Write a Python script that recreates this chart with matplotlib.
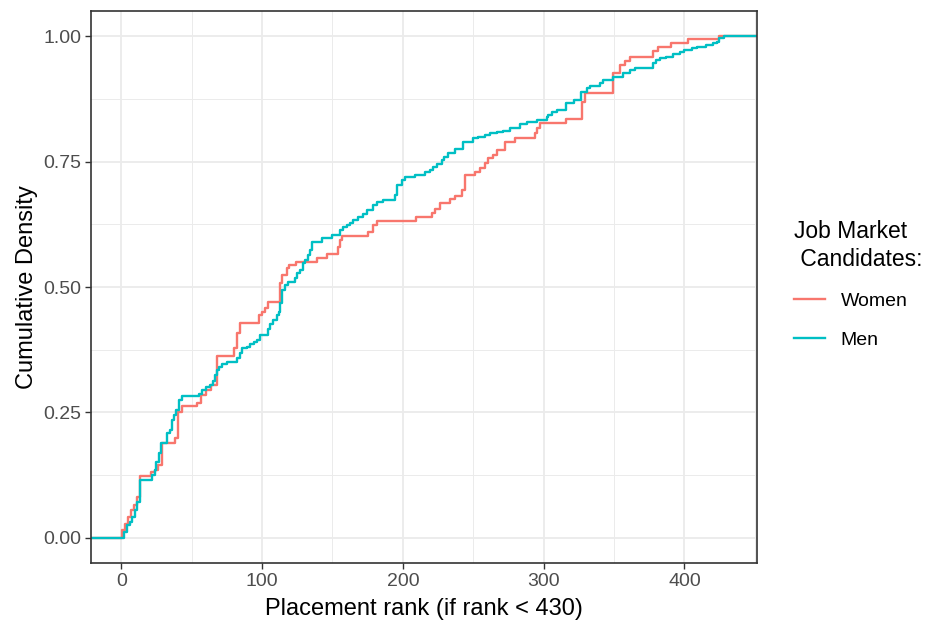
import matplotlib
matplotlib.use("Agg")
import matplotlib.pyplot as plt
from matplotlib.ticker import FixedLocator

plt.rcParams['font.family'] = ['Liberation Sans', 'DejaVu Sans']

# Step breakpoints (placement rank, cumulative density)
women_rank = [0.7, 2.8, 5.0, 7.1, 9.2, 11.3, 13.5, 21.3, 24.1, 26.2, 29.1, 38.3, 40.4, 43.3,
              53.9, 56.7, 60.3, 63.8, 68.1, 80.1, 82.3, 84.4, 97.9, 100.0, 102.1, 104.3,
              112.8, 114.2, 117.7, 119.1, 124.1, 139.0, 146.1, 153.9, 155.3, 156.7, 175.2,
              178.7, 181.6, 209.2, 220.6, 222.7, 226.2, 233.3, 236.9, 241.8, 244.0, 251.1,
              254.6, 258.2, 260.3, 263.8, 266.7, 272.3, 279.4, 293.6, 295.0, 297.2, 315.6,
              327.0, 329.1, 348.9, 353.9, 357.4, 361.0, 377.3, 380.9, 390.1, 402.8, 424.8]
women_cdf = [0.016, 0.028, 0.042, 0.056, 0.066, 0.082, 0.124, 0.131, 0.135, 0.145, 0.189, 0.199,
             0.251, 0.263, 0.269, 0.285, 0.295, 0.305, 0.363, 0.378, 0.408, 0.428, 0.444, 0.450,
             0.458, 0.470, 0.508, 0.524, 0.538, 0.544, 0.550, 0.558, 0.566, 0.580, 0.594, 0.602,
             0.610, 0.624, 0.631, 0.639, 0.647, 0.655, 0.667, 0.675, 0.681, 0.693, 0.723, 0.729,
             0.737, 0.747, 0.757, 0.763, 0.773, 0.789, 0.797, 0.807, 0.817, 0.827, 0.835, 0.869,
             0.886, 0.926, 0.942, 0.950, 0.958, 0.970, 0.978, 0.986, 0.994, 1.000]

men_rank = [2.1, 4.3, 6.4, 7.8, 9.9, 11.3, 13.5, 22.0, 24.1, 24.8, 27.0, 28.4, 32.6, 34.8, 36.2,
            37.6, 39.0, 41.1, 43.3, 55.3, 57.4, 60.3, 63.1, 65.2, 66.7, 68.1, 69.5, 71.6, 75.2,
            82.3, 84.4, 85.8, 89.4, 91.5, 94.3, 96.5, 98.6, 104.3, 105.7, 107.8, 110.6, 112.1,
            112.8, 114.2, 116.3, 118.4, 123.4, 124.8, 127.0, 129.1, 130.5, 132.6, 134.0, 135.5,
            142.6, 149.6, 155.3, 157.4, 160.3, 162.4, 164.5, 168.1, 171.6, 174.5, 178.7, 181.6,
            185.8, 194.3, 195.7, 199.3, 201.4, 208.5, 215.6, 219.1, 221.3, 224.1, 227.7, 229.1,
            231.9, 236.9, 242.6, 249.6, 253.2, 258.2, 261.7, 266.7, 270.9, 275.9, 283.0, 288.0,
            295.0, 302.1, 302.8, 305.7, 309.2, 315.6, 321.3, 326.2, 330.5, 332.6, 339.7, 341.8,
            348.9, 356.0, 361.0, 364.5, 377.3, 380.1, 382.3, 387.2, 391.5, 396.5, 399.3, 405.0,
            409.2, 415.6, 420.6, 423.4, 424.8, 428.4]
men_cdf = [0.012, 0.026, 0.032, 0.042, 0.056, 0.072, 0.116, 0.125, 0.135, 0.151, 0.169, 0.189,
           0.209, 0.215, 0.235, 0.245, 0.255, 0.275, 0.283, 0.287, 0.295, 0.301, 0.305, 0.313,
           0.325, 0.335, 0.341, 0.347, 0.351, 0.359, 0.369, 0.378, 0.380, 0.386, 0.390, 0.394,
           0.404, 0.416, 0.426, 0.434, 0.444, 0.450, 0.468, 0.494, 0.504, 0.510, 0.518, 0.528,
           0.534, 0.548, 0.554, 0.564, 0.574, 0.590, 0.598, 0.604, 0.614, 0.620, 0.624, 0.627,
           0.633, 0.639, 0.645, 0.653, 0.663, 0.669, 0.673, 0.683, 0.703, 0.713, 0.719, 0.723,
           0.729, 0.733, 0.739, 0.745, 0.753, 0.759, 0.767, 0.775, 0.789, 0.797, 0.799, 0.803,
           0.807, 0.809, 0.811, 0.817, 0.825, 0.829, 0.833, 0.839, 0.843, 0.849, 0.853, 0.867,
           0.873, 0.888, 0.896, 0.900, 0.906, 0.912, 0.918, 0.926, 0.932, 0.936, 0.946, 0.952,
           0.956, 0.958, 0.964, 0.968, 0.972, 0.976, 0.978, 0.982, 0.986, 0.988, 0.996, 1.000]

groups = ["Women", "Men"]
colors = ["#F8766D", "#00BFC4"]
x_ticks = [0, 100, 200, 300, 400]
y_ticks = [0.00, 0.25, 0.50, 0.75, 1.00]
y_labels = ["0.00", "0.25", "0.50", "0.75", "1.00"]

fig = plt.figure(figsize=(9.34, 6.27), dpi=100)
ax = fig.add_axes([91/934, 1 - 563/627, (757 - 91)/934, (563 - 11)/627])

xmin, xmax = -21.5, 451.5
for name, col, xs, ys in [(groups[0], colors[0], women_rank, women_cdf),
                          (groups[1], colors[1], men_rank, men_cdf)]:
    xx = [xmin - 50, 0.0] + list(xs) + [xmax + 50]
    yy = [0.0, 0.0] + list(ys) + [1.0]
    ax.plot(xx, yy, drawstyle='steps-post', color=col, lw=1.7, label=name)

ax.set_xlim(xmin, xmax)
ax.set_ylim(-0.05, 1.05)
ax.set_xticks(x_ticks)
ax.set_yticks(y_ticks)
ax.set_yticklabels(y_labels)
ax.xaxis.set_minor_locator(FixedLocator([-50, 50, 150, 250, 350, 450]))
ax.yaxis.set_minor_locator(FixedLocator([0.125, 0.375, 0.625, 0.875]))
ax.grid(True, which='major', color='#EBEBEB', lw=1.3)
ax.grid(True, which='minor', color='#EBEBEB', lw=0.7)
ax.set_axisbelow(True)
for s in ax.spines.values():
    s.set_color('#333333')
    s.set_linewidth(1.2)
ax.tick_params(which='major', length=4, width=1.0, color='#333333',
               labelcolor='#4D4D4D', labelsize=14, pad=3)
ax.tick_params(which='minor', length=0)
ax.set_xlabel("Placement rank (if rank < 430)", fontsize=17, color='black', labelpad=6)
ax.set_ylabel("Cumulative Density", fontsize=17, color='black', labelpad=4)

leg = ax.legend(title="Job Market\n Candidates:", loc='upper left',
                bbox_to_anchor=(794/934, 1 - 220/627), bbox_transform=fig.transFigure,
                frameon=False, fontsize=14, borderpad=0, borderaxespad=0,
                title_fontsize=16.5, handlelength=1.6, handletextpad=0.8,
                labelspacing=1.08, alignment='left')
leg.get_title().set_linespacing(1.3)
plt.savefig("out.png", dpi=100)
